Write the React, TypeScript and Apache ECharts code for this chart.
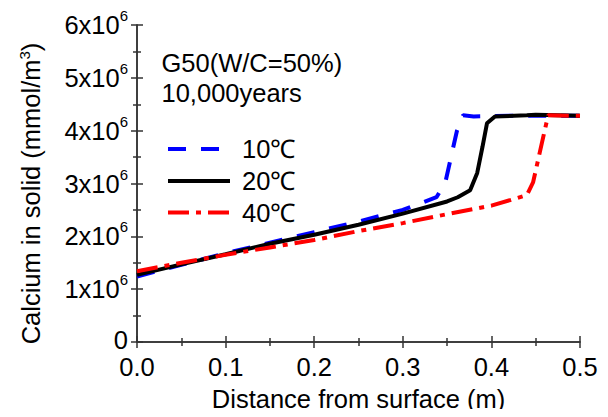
import React, { useEffect, useRef } from "react";
import * as echarts from "echarts";

const seriesNames = ["10℃", "20℃", "40℃"];
const blueData: [number, number][] = [
  [0, 1.24e6], [0.05, 1.46e6], [0.1, 1.68e6], [0.15, 1.88e6], [0.2, 2.08e6],
  [0.25, 2.28e6], [0.3, 2.5e6], [0.338, 2.74e6], [0.348, 3.02e6], [0.361, 3.99e6],
  [0.368, 4.29e6], [0.38, 4.27e6], [0.42, 4.28e6], [0.5, 4.28e6],
];
const blackData: [number, number][] = [
  [0, 1.27e6], [0.05, 1.47e6], [0.1, 1.66e6], [0.15, 1.86e6], [0.2, 2.03e6],
  [0.25, 2.22e6], [0.3, 2.43e6], [0.35, 2.66e6], [0.362, 2.74e6], [0.376, 2.87e6],
  [0.384, 3.2e6], [0.39, 3.7e6], [0.395, 4.14e6], [0.404, 4.27e6], [0.44, 4.29e6],
  [0.45, 4.3e6], [0.5, 4.28e6],
];
const redData: [number, number][] = [
  [0, 1.34e6], [0.05, 1.5e6], [0.1, 1.65e6], [0.15, 1.79e6], [0.2, 1.93e6],
  [0.25, 2.1e6], [0.3, 2.25e6], [0.35, 2.42e6], [0.4, 2.58e6], [0.44, 2.78e6],
  [0.447, 3.02e6], [0.464, 4.29e6], [0.5, 4.28e6],
];
const xTicks = { min: 0, max: 0.5, interval: 0.1 };
const yTicks = { min: 0, max: 6e6, interval: 1e6 };
const annotations = ["G50(W/C=50%)", "10,000years"];

const FONT = "'Liberation Sans', Arial, sans-serif";
const FS = 25.5;
const colors = ["#0000ff", "#000000", "#ff0000"];
const dashes: any[] = [[18, 15], null, [21, 7, 5, 7]];

export default function App() {
  const ref = useRef<HTMLDivElement>(null);
  useEffect(() => {
    if (!ref.current) return;
    const chart = echarts.init(ref.current, undefined, { renderer: "svg" });
    const axisLine = { show: true, lineStyle: { color: "#333", width: 1.5 } };
    const commonAxis = {
      axisLine,
      axisTick: { show: true, inside: false, length: 6, lineStyle: { color: "#333", width: 1.5 } },
      minorTick: { show: true, splitNumber: 2, length: 4, lineStyle: { color: "#333", width: 1.5 } },
      splitLine: { show: false },
    };
    const legendY = [149, 181, 212.5];
    const legendGraphics: any[] = [];
    seriesNames.forEach((n, i) => {
      legendGraphics.push({
        type: "line",
        shape: { x1: 168, y1: legendY[i], x2: 230, y2: legendY[i] },
        style: { stroke: colors[i], lineWidth: 4, lineDash: dashes[i] || undefined },
      });
      legendGraphics.push({
        type: "text",
        x: 242,
        y: legendY[i],
        style: { text: n, fontSize: FS, fill: "#000", fontFamily: FONT, verticalAlign: "middle" },
      });
    });
    chart.setOption({
      animation: false,
      textStyle: { fontFamily: FONT },
      grid: { left: 137, right: 28, top: 25, bottom: 70 },
      xAxis: [
        {
          type: "value",
          ...xTicks,
          position: "bottom",
          ...commonAxis,
          axisLabel: {
            fontSize: FS, color: "#000", margin: 12, fontFamily: FONT,
            formatter: (v: number) => v.toFixed(1),
          },
          name: "Distance from surface (m)",
          nameLocation: "middle",
          nameGap: 44,
          nameTextStyle: { fontSize: FS, color: "#000", fontFamily: FONT },
        },
        {
          type: "value",
          ...xTicks,
          position: "top",
          ...commonAxis,
          axisLabel: { show: false },
        },
      ],
      yAxis: [
        {
          type: "value",
          ...yTicks,
          position: "left",
          ...commonAxis,
          axisLabel: {
            margin: 9,
            formatter: (v: number) => (v === 0 ? "{z|0}" : `{b|${Math.round(v / 1e6)}x10}{s|6}`),
            rich: {
              z: { fontSize: FS, color: "#000", fontFamily: FONT, lineHeight: 18, padding: [0, 0, 4, 0] },
              b: { fontSize: FS, color: "#000", fontFamily: FONT, lineHeight: 34 },
              s: { fontSize: 15, color: "#000", fontFamily: FONT, lineHeight: 15, verticalAlign: "top" },
            },
          },
          name: "Calcium in solid (mmol/m{s|3})",
          nameLocation: "middle",
          nameGap: 92,
          nameTextStyle: {
            rich: {
              s: { fontSize: 15, color: "#000", fontFamily: FONT, lineHeight: 15, verticalAlign: "top" },
            },
            fontSize: FS, color: "#000", fontFamily: FONT, lineHeight: 28,
            padding: [0, 20, 0, 0],
          },
        },
        {
          type: "value",
          ...yTicks,
          position: "right",
          ...commonAxis,
          axisLabel: { show: false },
        },
      ],
      graphic: [
        {
          type: "text", x: 161.5, y: 62.5,
          style: { text: annotations[0], fontSize: FS, fill: "#000", fontFamily: FONT, verticalAlign: "middle" },
        },
        {
          type: "text", x: 161.5, y: 92.5,
          style: { text: annotations[1], fontSize: FS, fill: "#000", fontFamily: FONT, verticalAlign: "middle" },
        },
        ...legendGraphics,
      ],
      series: [
        {
          name: seriesNames[0], type: "line", data: blueData, symbol: "none",
          lineStyle: { color: colors[0], width: 4, type: dashes[0] },
        },
        {
          name: seriesNames[1], type: "line", data: blackData, symbol: "none",
          lineStyle: { color: colors[1], width: 4, type: "solid" },
        },
        {
          name: seriesNames[2], type: "line", data: redData, symbol: "none",
          lineStyle: { color: colors[2], width: 4, type: dashes[2] },
        },
      ],
    });
    return () => chart.dispose();
  }, []);
  return <div ref={ref} style={{ width: 608, height: 417, margin: -8, background: "#fff" }} />;
}
